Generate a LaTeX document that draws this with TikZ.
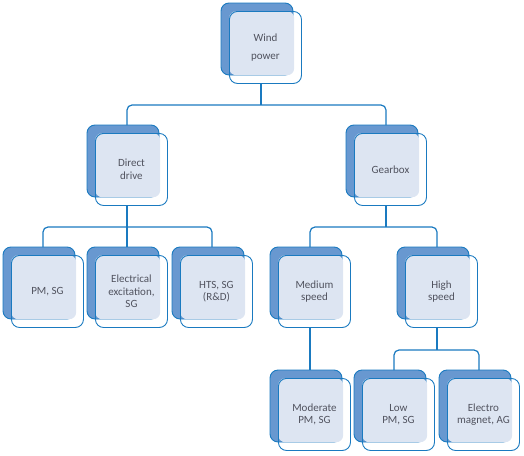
\documentclass[tikz,border=0pt]{standalone}
\usepackage{fontspec}
\setmainfont{Carlito}
\definecolor{boxline}{RGB}{26,122,192}
\definecolor{boxdark}{RGB}{104,152,208}
\definecolor{boxlight}{RGB}{221,229,242}
\definecolor{boxtext}{RGB}{80,82,94}
\newcommand{\treebox}[4]{%
\node [backbox] (#1b) at (#2+36,-#3-36) {};
\node [fillbox, anchor=north west] (#1f) at (#2+8,-#3-8) {};
\node [outbox, anchor=north west] (#1o) at (#2+8,-#3-8) {};
\node [boxlabel] (#1) at (#1o.center) {#4};
\coordinate (#1top) at (#2+40,-#3);
\coordinate (#1bot) at (#2+40,-#3-80);
}
\begin{document}
\begin{tikzpicture}[x=1pt,y=1pt,
backbox/.style={draw=boxline, fill=boxdark, line width=0.9pt, rounded corners=8pt, minimum width=72pt, minimum height=72pt, inner sep=0pt},
fillbox/.style={fill=boxlight, rounded corners=7pt, minimum width=65pt, minimum height=64pt, inner sep=0pt},
outbox/.style={draw=boxline, line width=0.9pt, rounded corners=8pt, minimum width=72pt, minimum height=72pt, inner sep=0pt},
boxlabel/.style={text=boxtext, align=center, font=\fontsize{11}{12.5}\selectfont, inner sep=0pt},
link/.style={draw=boxline, line width=1.2pt, rounded corners=5pt}]
\useasboundingbox (0,0) rectangle (524,-455);
\treebox{wind}{221}{3}{Wind\\[6pt]power}
\treebox{direct}{87}{125}{Direct\\drive}
\treebox{gear}{346}{125}{Gearbox}
\treebox{pm}{3}{247}{PM, SG}
\treebox{elec}{87}{247}{Electrical\\excitation,\\SG}
\treebox{hts}{172}{247}{HTS, SG\\(R\&D)}
\treebox{medium}{270}{247}{Medium\\speed}
\treebox{high}{397}{247}{High\\speed}
\treebox{moderate}{270}{370}{Moderate\\PM, SG}
\treebox{low}{354}{370}{Low\\PM, SG}
\treebox{electro}{439}{370}{Electro\\magnet, AG}
\draw [link] (directtop) -- ++(0,20) coordinate (windbus) -| (geartop);
\draw [link] (windbot) -- (windbot |- windbus);
\draw [link] (pmtop) -- ++(0,20) coordinate (directbus) -| (htstop);
\draw [link] (directbot) -- (electop);
\draw [link] (mediumtop) -- ++(0,20) coordinate (gearbus) -| (hightop);
\draw [link] (gearbot) -- (gearbot |- gearbus);
\draw [link] (mediumbot) -- (moderatetop);
\draw [link] (lowtop) -- ++(0,20) coordinate (highbus) -| (electrotop);
\draw [link] (highbot) -- (highbot |- highbus);
\end{tikzpicture}
\end{document}
